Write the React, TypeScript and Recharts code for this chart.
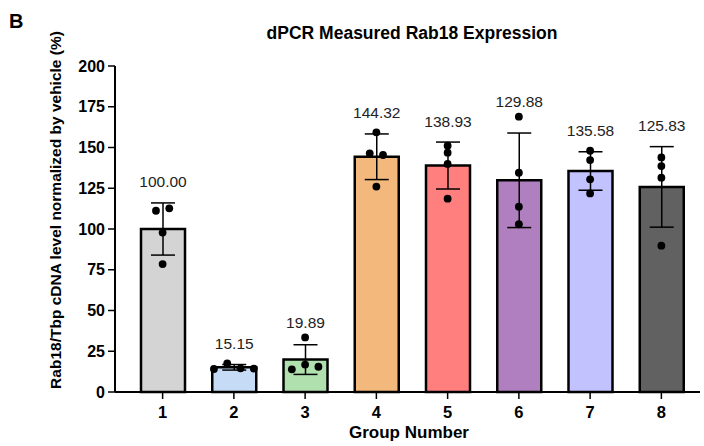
import React from 'react';
import {
  ComposedChart,
  Bar,
  Cell,
  ErrorBar,
  LabelList,
  Scatter,
  XAxis,
  YAxis,
} from 'recharts';

// dPCR Rab18 expression per group, bars = mean, whiskers = SD, dots = replicates

const groups = ['1', '2', '3', '4', '5', '6', '7', '8'];
const means = [100.0, 15.15, 19.89, 144.32, 138.93, 129.88, 135.58, 125.83];
const sds = [16.0, 1.7, 9.1, 14.0, 14.4, 29.0, 11.8, 24.7];
const replicates = [
  [111.2, 112.7, 97.8, 78.5],
  [14.1, 17.6, 14.5, 14.4],
  [13.9, 16.8, 15.5, 33.5],
  [146.4, 145.4, 159.3, 126.0],
  [151.1, 146.8, 139.9, 118.6],
  [168.9, 134.5, 113.7, 102.9],
  [148.0, 142.3, 130.5, 121.8],
  [143.9, 138.6, 131.5, 89.8],
];
const yTicks = [0, 25, 50, 75, 100, 125, 150, 175, 200];

const colors = ['#d4d4d4', '#c6dcf6', '#afe0ae', '#f2b87c', '#ff7f7f', '#b07fbf', '#c2c2ff', '#616161'];
const font = '"Liberation Sans", Arial, sans-serif';

const barData = groups.map((g, i) => ({ group: g, mean: means[i], sd: sds[i] }));

// spread dots sideways when they overlap (like GraphPad scatter)
const pointData = groups.flatMap((g, gi) => {
  const vals = replicates[gi];
  const order = vals.map((v, i) => i).sort((a, b) => vals[a] - vals[b]);
  const clusters: number[][] = [];
  order.forEach((idx, k) => {
    if (k > 0 && vals[idx] - vals[order[k - 1]] < 4) clusters[clusters.length - 1].push(idx);
    else clusters.push([idx]);
  });
  const out: { group: string; value: number; dx: number }[] = [];
  clusters.forEach((c) => {
    const members = [...c].sort((a, b) => a - b);
    members.forEach((idx, j) => {
      out.push({ group: g, value: vals[idx], dx: (j - (members.length - 1) / 2) * 13.3 });
    });
  });
  return out;
});

const Dot = (props: any) => {
  const { cx, cy, payload } = props;
  if (cx == null || cy == null) return null;
  return <circle cx={cx + payload.dx} cy={cy} r={3.9} fill="#000" />;
};

const MeanLabel = (props: any) => {
  const { x, y, width, height, index } = props;
  const m = means[index];
  const base = y + height;
  const k = height / m;
  const errTop = base - (m + sds[index]) * k;
  const ptTop = base - Math.max(...replicates[index]) * k;
  const cy = Math.min(errTop - 21, ptTop - 15);
  return (
    <text
      x={x + width / 2}
      y={cy}
      textAnchor="middle"
      dominantBaseline="central"
      fontFamily={font}
      fontSize={15.5}
      fill="#222"
    >
      {m.toFixed(2)}
    </text>
  );
};

const yTickStyle = { fill: '#000', fontSize: 16, fontWeight: 700, fontFamily: font };
const xTickStyle = { fill: '#000', fontSize: 16.5, fontWeight: 700, fontFamily: font };

export default function App() {
  return (
    <div style={{ position: 'absolute', left: 0, top: 0, width: 704, height: 446, background: '#fff' }}>
      <ComposedChart
        width={704}
        height={446}
        data={barData}
        margin={{ top: 66, right: 4, left: 0, bottom: 0 }}
      >
        <XAxis
          dataKey="group"
          type="category"
          allowDuplicatedCategory={false}
          padding={{ left: 12, right: 3 }}
          height={54}
          tick={xTickStyle}
          tickSize={7}
          tickMargin={7}
          axisLine={{ stroke: '#000', strokeWidth: 2 }}
          tickLine={{ stroke: '#000', strokeWidth: 1.5 }}
        />
        <YAxis
          type="number"
          domain={[0, 200]}
          ticks={yTicks}
          width={115}
          tick={yTickStyle}
          tickSize={7}
          tickMargin={3}
          axisLine={{ stroke: '#000', strokeWidth: 2 }}
          tickLine={{ stroke: '#000', strokeWidth: 1.5 }}
        />
        <Bar dataKey="mean" barSize={44} stroke="#000" strokeWidth={2.5} isAnimationActive={false}>
          {barData.map((d, i) => (
            <Cell key={d.group} fill={colors[i]} />
          ))}
          <ErrorBar dataKey="sd" width={12} stroke="#000" strokeWidth={1.5} direction="y" />
          <LabelList dataKey="mean" content={MeanLabel} />
        </Bar>
        <Scatter data={pointData} dataKey="value" shape={Dot} isAnimationActive={false} />
      </ComposedChart>
      <svg
        width={704}
        height={446}
        style={{ position: 'absolute', left: 0, top: 0, pointerEvents: 'none' }}
      >
        <text x={9} y={28} fontFamily={font} fontSize={20} fontWeight={700} fill="#000">
          B
        </text>
        <text x={412} y={39} textAnchor="middle" fontFamily={font} fontSize={17.5} fontWeight={700} fill="#000">
          dPCR Measured Rab18 Expression
        </text>
        <text
          x={61}
          y={210}
          transform="rotate(-90 61 210)"
          textAnchor="middle"
          fontFamily={font}
          fontSize={15.5}
          fontWeight={700}
          fill="#000"
        >
          Rab18/Tbp cDNA level normalized by vehicle (%)
        </text>
        <text x={409} y={438} textAnchor="middle" fontFamily={font} fontSize={17} fontWeight={700} fill="#000">
          Group Number
        </text>
      </svg>
    </div>
  );
}
